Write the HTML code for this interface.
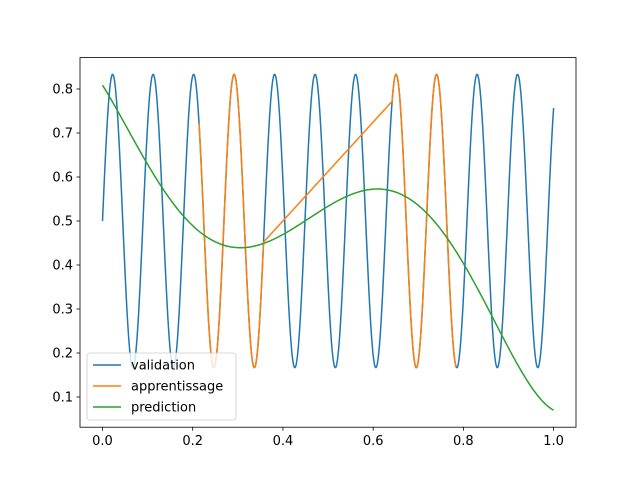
<!DOCTYPE html><html><head><style>body{margin:0;background:#fff}svg{display:block}text{font-family:"DejaVu Sans","Liberation Sans",sans-serif;font-size:13px;fill:#000}</style></head><body>
<svg id="s" width="640" height="480" xmlns="http://www.w3.org/2000/svg">
<rect x="0" y="0" width="640" height="480" fill="#fff"/>
<g id="plot"></g>
<rect x="80" y="57.6" width="496" height="369.6" fill="none" stroke="#000" stroke-width="0.8"/>
<g id="ticks"></g>
<g>
<rect x="87" y="353" width="149" height="67" rx="3" fill="#fff" fill-opacity="0.8" stroke="#ccc" stroke-width="0.8"/>
<line x1="93" y1="365" x2="121" y2="365" stroke="#1f77b4" stroke-width="1.5"/>
<text x="131" y="369.5">validation</text>
<line x1="93" y1="386" x2="121" y2="386" stroke="#ff7f0e" stroke-width="1.5"/>
<text x="131" y="390.5">apprentissage</text>
<line x1="93" y1="407" x2="121" y2="407" stroke="#2ca02c" stroke-width="1.5"/>
<text x="131" y="411.5">prediction</text>
</g>
</svg>
<script>
var NS="http://www.w3.org/2000/svg";
function X(x){return 102.5+451.1*x}
function Y(v){return 397-(v-0.1)*440}
function f(x){return 0.5+0.3333*Math.sin(2*Math.PI*11.14*x)}
function path(d,c){var p=document.createElementNS(NS,"path");p.setAttribute("d",d);p.setAttribute("fill","none");p.setAttribute("stroke",c);p.setAttribute("stroke-width","1.5");p.setAttribute("stroke-linejoin","round");document.getElementById("plot").appendChild(p);}
var d="";for(var i=0;i<=1000;i++){var x=i/1000;d+=(i?"L":"M")+X(x).toFixed(2)+" "+Y(f(x)).toFixed(2);}
path(d,"#1f77b4");
d="";var first=true;
for(var i=2140;i<=3570;i+=5){var x=i/10000;d+=(first?"M":"L")+X(x).toFixed(2)+" "+Y(f(x)).toFixed(2);first=false;}
for(var i=6420;i<=7840;i+=5){var x=i/10000;d+="L"+X(x).toFixed(2)+" "+Y(f(x)).toFixed(2);}
path(d,"#ff7f0e");
var g=[[102.5,85],[145,160],[180,213],[195,227],[243,248],[263,242],[313,217],[347,197],[378,189],[413,200],[447,237],[470,277],[500,330],[520,370],[553.6,410]];
var deg=5,n=deg+1,A=[],b=[];
for(var i=0;i<n;i++){A.push(new Array(n).fill(0));b.push(0);}
g.forEach(function(p){var u=(p[0]-102.5)/451.1;for(var i=0;i<n;i++){for(var j=0;j<n;j++)A[i][j]+=Math.pow(u,i+j);b[i]+=Math.pow(u,i)*p[1];}});
for(var i=0;i<n;i++){var m=i;for(var k=i+1;k<n;k++)if(Math.abs(A[k][i])>Math.abs(A[m][i]))m=k;var t=A[i];A[i]=A[m];A[m]=t;t=b[i];b[i]=b[m];b[m]=t;
for(var k=i+1;k<n;k++){var r=A[k][i]/A[i][i];for(var j=i;j<n;j++)A[k][j]-=r*A[i][j];b[k]-=r*b[i];}}
var c=new Array(n);for(var i=n-1;i>=0;i--){var s=b[i];for(var j=i+1;j<n;j++)s-=A[i][j]*c[j];c[i]=s/A[i][i];}
d="";for(var i=0;i<=200;i++){var u=i/200,y=0;for(var k=0;k<n;k++)y+=c[k]*Math.pow(u,k);d+=(i?"L":"M")+X(u).toFixed(2)+" "+y.toFixed(2);}
path(d,"#2ca02c");
var t=document.getElementById("ticks"),h="";
for(var i=0;i<=5;i++){var x=X(i*0.2);h+='<line x1="'+x+'" y1="427.2" x2="'+x+'" y2="430.7" stroke="#000" stroke-width="0.8"/><text x="'+x+'" y="445" text-anchor="middle">'+(i*0.2).toFixed(1)+'</text>';}
for(var i=1;i<=8;i++){var y=Y(i/10);h+='<line x1="76.5" y1="'+y+'" x2="80" y2="'+y+'" stroke="#000" stroke-width="0.8"/><text x="73" y="'+(y+4.5)+'" text-anchor="end">'+(i/10).toFixed(1)+'</text>';}
t.innerHTML=h;
</script>
</body></html>
